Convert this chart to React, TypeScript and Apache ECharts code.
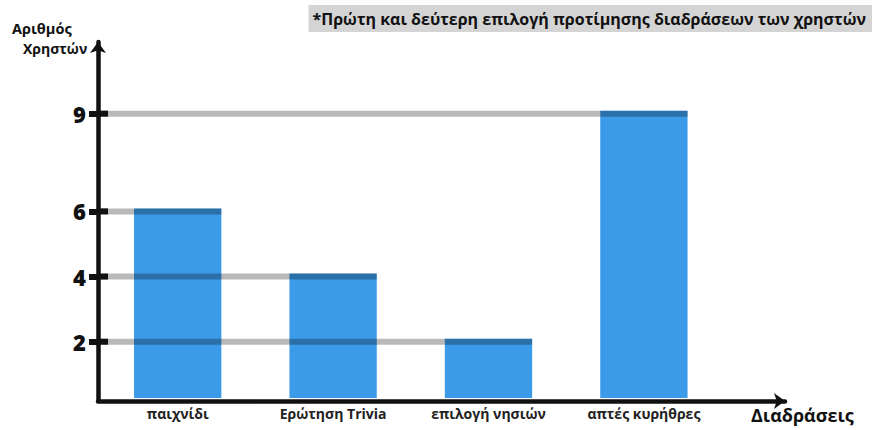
import React, { useEffect, useRef } from "react";
import * as echarts from "echarts";

const categories = ["παιχνίδι", "Ερώτηση Trivia", "επιλογή νησιών", "απτές κυρήθρες"];
const users = [6, 4, 2, 9];
const yTicks = [2, 4, 6, 9];
const yMin = 0.18;
const yMax = 11.2;

const FRAME_LEFT = 98;
const BAR_SHIFT = 3;
const BAR_RATIO = 0.562;
const FONT = "'Open Sans', 'Noto Sans', sans-serif";

export default function App() {
  const ref = useRef<HTMLDivElement>(null);
  useEffect(() => {
    if (!ref.current) return;
    const chart = echarts.init(ref.current, undefined, { renderer: "svg" });
    const axisLineStyle = { color: "#111", width: 4.5 };
    chart.setOption({
      animation: false,
      backgroundColor: "#fff",
      title: [
        {
          text: "*Πρώτη και δεύτερη επιλογή προτίμησης διαδράσεων των χρηστών",
          right: 0,
          top: 5,
          backgroundColor: "#d4d4d4",
          padding: [5, 6, 4, 4],
          textStyle: { fontFamily: FONT, fontWeight: "bold", fontSize: 16, lineHeight: 18, color: "#111" },
        },
        {
          text: "Αριθμός",
          left: 12,
          top: 21,
          padding: 0,
          textStyle: { fontFamily: FONT, fontWeight: "bold", fontSize: 14.5, color: "#111" },
        },
        {
          text: "Χρηστών",
          left: 23,
          top: 41,
          padding: 0,
          textStyle: { fontFamily: FONT, fontWeight: "bold", fontSize: 14, color: "#111" },
        },
        {
          text: "Διαδράσεις",
          left: 751,
          top: 406,
          padding: 0,
          textStyle: { fontFamily: FONT, fontWeight: "bold", fontSize: 18, color: "#111" },
        },
      ],
      grid: [
        { left: FRAME_LEFT, right: 87, top: 42, bottom: 29 },
        { left: 100, width: 621.6, top: 42 - BAR_SHIFT, bottom: 29 + BAR_SHIFT },
      ],
      xAxis: [
        {
          type: "value",
          gridIndex: 0,
          min: 0,
          max: 1,
          z: 10,
          axisLine: { show: true, onZero: false, lineStyle: axisLineStyle, symbol: ["none", "arrow"], symbolSize: [12, 11] },
          axisTick: { show: false },
          axisLabel: { show: false },
          splitLine: { show: false },
        },
        {
          type: "category",
          gridIndex: 1,
          data: categories,
          axisLine: { show: false },
          axisTick: { show: false },
          axisLabel: { margin: 8, fontFamily: FONT, fontWeight: "bold", fontSize: 14, color: "#222" },
        },
      ],
      yAxis: [
        {
          type: "value",
          gridIndex: 0,
          min: yMin,
          max: yMax,
          z: 10,
          axisLine: { show: true, onZero: false, lineStyle: axisLineStyle, symbol: ["none", "arrow"], symbolSize: [12, 11] },
          axisTick: { show: true, customValues: yTicks, length: 9, lineStyle: { color: "#111", width: 6 } },
          axisLabel: {
            customValues: yTicks,
            margin: 12,
            fontFamily: FONT,
            fontWeight: 800,
            fontSize: 22,
            color: "#111",
          },
          splitLine: { show: false },
        },
        {
          type: "value",
          gridIndex: 1,
          min: yMin,
          max: yMax,
          show: false,
          splitLine: { show: false },
        },
      ],
      series: [
        {
          type: "bar",
          xAxisIndex: 1,
          yAxisIndex: 1,
          data: users,
          barWidth: (BAR_RATIO * 100).toFixed(1) + "%",
          itemStyle: { color: "#3c9be8" },
          z: 2,
        },
        {
          type: "custom",
          xAxisIndex: 1,
          yAxisIndex: 1,
          z: 5,
          data: users.map((v, i) => [i, v]),
          renderItem: (params: any, api: any) => {
            const p = api.coord([api.value(0), api.value(1)]);
            const y = p[1] + BAR_SHIFT;
            const band = api.size([1, 0])[0];
            const right = p[0] + (band * BAR_RATIO) / 2;
            return {
              type: "group",
              children: [
                {
                  type: "line",
                  shape: { x1: FRAME_LEFT + 2, y1: y, x2: right, y2: y },
                  style: { stroke: "rgba(0,0,0,0.275)", lineWidth: 6 },
                },
                {
                  type: "line",
                  shape: { x1: FRAME_LEFT, y1: y, x2: FRAME_LEFT + 10, y2: y },
                  style: { stroke: "#111", lineWidth: 6 },
                },
              ],
            };
          },
        },
      ],
    });
    return () => chart.dispose();
  }, []);
  return <div ref={ref} style={{ position: "fixed", left: 0, top: 0, width: 872, height: 430 }} />;
}
